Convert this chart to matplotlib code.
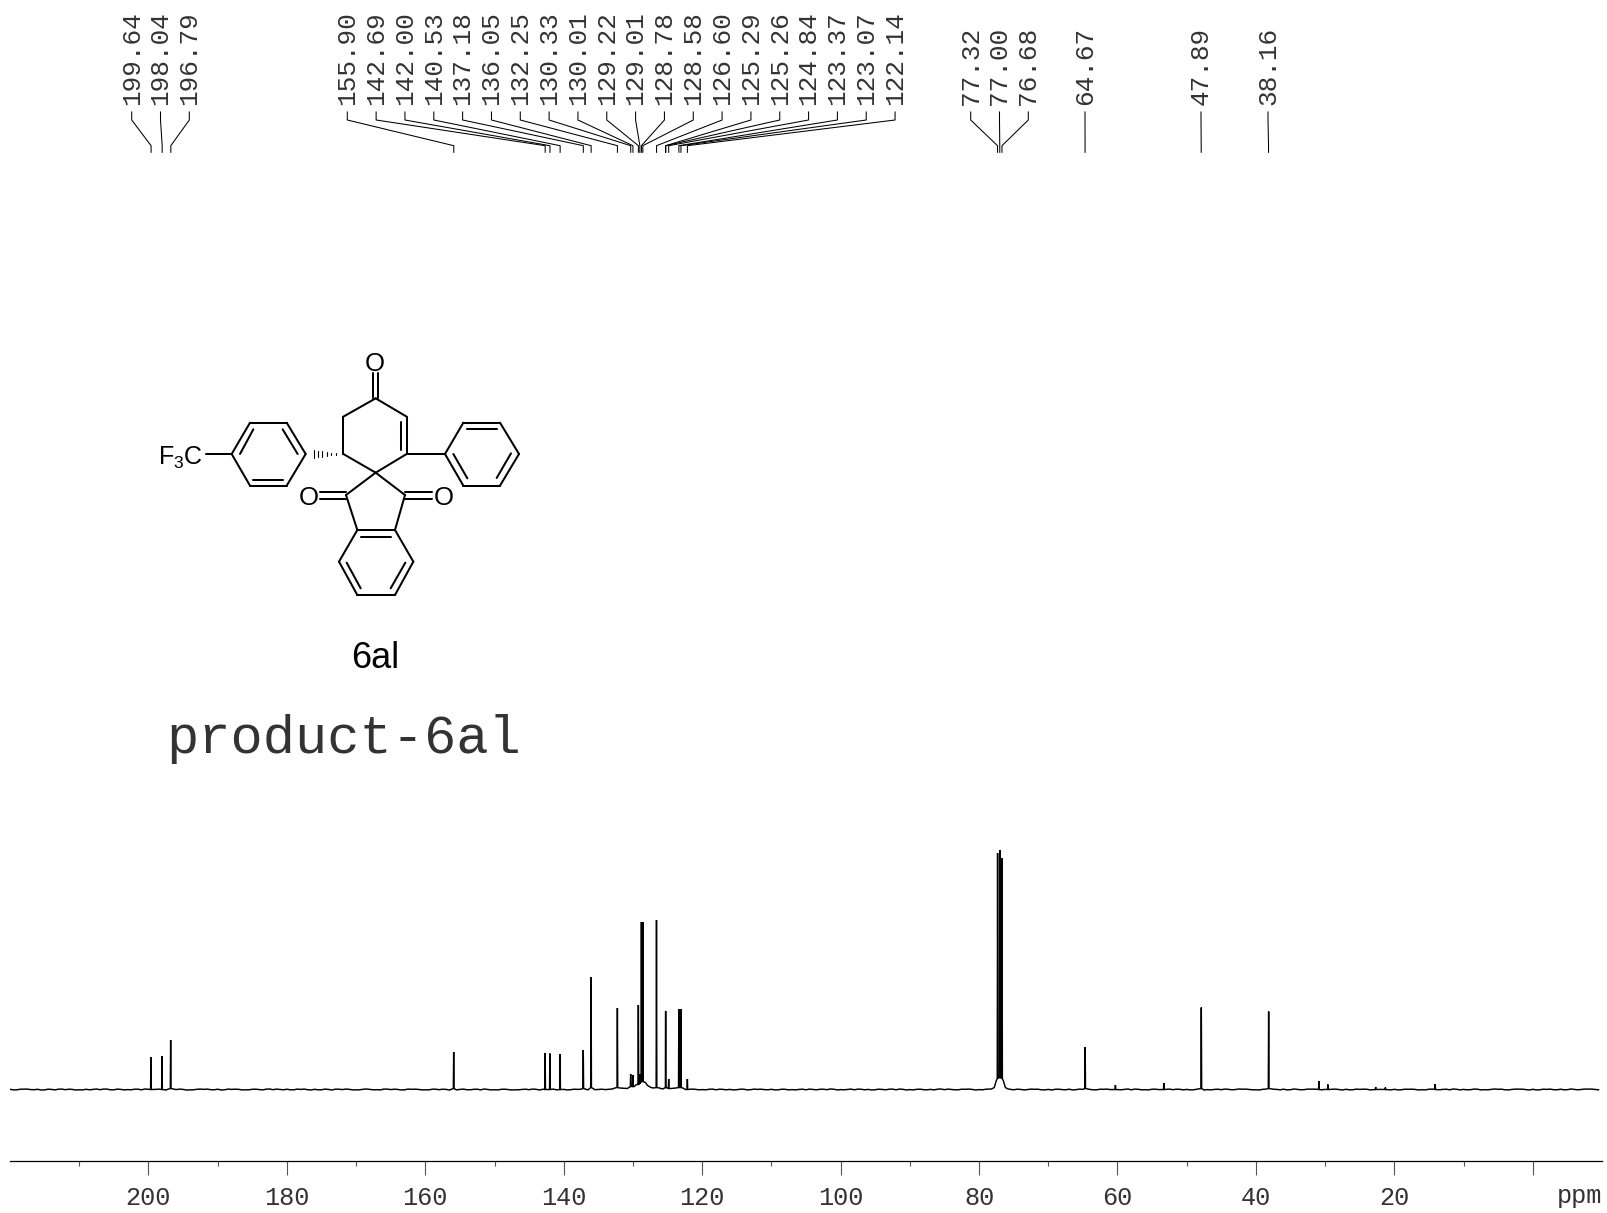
import numpy as np
import matplotlib
matplotlib.use('Agg')
import matplotlib.pyplot as plt

plt.rcParams['mathtext.fontset'] = 'custom'
plt.rcParams['mathtext.rm'] = 'Liberation Sans'

# labelled peaks
peak_labels = ['199.64', '198.04', '196.79', '155.90', '142.69', '142.00', '140.53', '137.18',
               '136.05', '132.25', '130.33', '130.01', '129.22', '129.01', '128.78', '128.58',
               '126.60', '125.29', '125.26', '124.84', '123.37', '123.07', '122.14',
               '77.32', '77.00', '76.68', '64.67', '47.89', '38.16']
peak_height = [32.5, 33.5, 49.5, 37.5, 36.5, 36, 35.5, 39.5,
               112.5, 81.5, 15.5, 14.5, 84.5, 15, 167.5, 167.5,
               169.5, 78.5, 78, 10.5, 80.5, 80.5, 10.5,
               236.5, 239.5, 231.5, 42.5, 82, 78]
peak_foot = [0, 0, 1, 1, 0, 0, 0, 1,
             2, 2, 3, 3, 5, 6, 8, 8,
             2, 2, 2, 1, 2, 2, 0,
             11, 12, 11, 1, 1, 1]

# small unlabelled signals
small_ppm = [60.3, 53.3, 30.9, 29.6, 22.7, 21.3, 14.1]
small_height = [4.5, 6.5, 8.5, 5, 2.5, 2, 5.5]

# broad bases under the crowded peaks and solvent
foot_ppm = [133.0, 132.6, 131.9, 130.8, 129.8, 129.5, 128.2, 127.9, 127.4, 127.0, 126.2, 125.7,
            124.5, 123.8, 122.8, 122.4, 78.2, 77.8, 77.55, 76.45, 76.2, 75.8]
foot_val = [0.5, 1.5, 1.5, 1, 3, 5, 7, 4, 2, 1.5, 1.5, 0.5,
            1, 1.5, 1.5, 0, 0.5, 2, 8, 8, 2, 0.5]

# baseline wiggle read every 1 ppm, 220 down to -10
base_ppm = list(range(220, -11, -1))
base_val = [0.2, -0.3, 0.3, -0.1, 0.2, -0.4, 0.1, 0.3, -0.2, 0.1, -0.3, 0.2, 0.1, -0.2, 0.4, -0.3,
            0.1, -0.1, 0.3, -0.3, 0.2, 0.1, -0.2, 0.3, -0.1, 0.1, -0.4, 0.2, 0.1, -0.2, 0.3, -0.3,
            0.1, 0.2, -0.3, 0.2, -0.1, 0.3, -0.2, 0.1, 0.3, -0.3, 0.1, -0.2, 0.2, -0.3, 0.1, 0.3,
            -0.1, 0.2, -0.4, 0.2, 0.1, -0.2, 0.4, -0.1, 0.1, -0.3, 0.2, 0.1, -0.3, 0.3, -0.2, 0.1,
            -0.4, 0.1, -0.2, 0.2, -0.4, 0.1, -0.3, 0.2, -0.1, -0.3, 0.1, -0.2, 0.2, 0.3, -0.1, -0.4,
            0.1, -0.2, 0.1, 0.2, -0.3, 0.1, -0.1, 0.2, -0.3, -0.1, 0.1, -0.2, 0.1, -0.2, 0.1, -0.3,
            0.1, 0.1, -0.2, 0.2, -0.1, 0.2, -0.3, 0.1, 0.1, -0.2, 0.3, -0.2, 0.1, -0.1, 0.2, -0.3,
            0.2, -0.1, 0.1, -0.3, 0.1, 0.2, -0.2, 0.3, -0.1, 0.1, -0.3, 0.2, 0.1, -0.2, 0.1, 0.3,
            -0.3, 0.2, -0.1, 0.2, -0.2, 0.1, 0.3, -0.2, 0.1, -0.3, 0.2, 0.1, -0.1, 0.3, -0.2, 0.1,
            0.2, -0.3, 0.1, -0.1, 0.2, -0.3, 0.1, 0.2, -0.1, 0.3, -0.2, 0.1, 0.1, -0.3, 0.2, -0.1,
            0.2, 0.1, -0.3, 0.2, -0.2, 0.3, -0.1, 0.1, -0.2, 0.2, 0.1, -0.3, 0.3, -0.1, 0.1, -0.2,
            0.2, -0.1, 0.3, 0.1, -0.3, 0.2, -0.2, 0.1, 0.3, -0.2, 0.1, -0.1, 0.3, -0.3, 0.1, 0.2,
            -0.1, 0.2, -0.3, 0.1, 0.3, -0.2, 0.1, -0.1, 0.2, -0.3, 0.2, 0.1, -0.2, 0.3, -0.1, 0.1,
            -0.3, 0.2, 0.1, -0.2, 0.3, -0.2, 0.1, 0.2, -0.3, 0.1, 0.3, -0.1, 0.2, -0.3, 0.1, -0.2,
            0.3, -0.2]

# and the points in between, every 1 ppm from 219.5 down to -9.5
half_ppm = [219.5 - i for i in range(230)]
half_val = [-0.4, 0.3, 0.4, -0.2, -0.5, 0.3, -0.4, 0.4, 0.3, -0.5,
            -0.4, -0.3, 0.5, 0.4, -0.3, 0.4, -0.4, -0.3, 0.3, 0.5,
            -0.3, 0.4, -0.5, 0.3, 0.4, -0.5, -0.3, 0.4, 0.4, -0.3,
            -0.5, 0.4, 0.3, -0.4, -0.3, 0.3, -0.4, 0.5, 0.4, -0.3,
            -0.3, 0.4, 0.4, -0.5, -0.3, 0.4, -0.5, 0.3, 0.4, -0.4,
            -0.3, 0.5, -0.3, -0.4, 0.4, 0.3, -0.5, 0.4, 0.3, -0.4,
            -0.4, 0.3, 0.3, -0.5, -0.4, 0.4, -0.3, 0.3, 0.5, -0.4,
            -0.4, 0.3, -0.5, -0.3, 0.3, 0.4, -0.5, 0.2, 0.4, -0.3,
            -0.4, 0.3, 0.3, -0.4, -0.2, 0.3, -0.4, 0.3, 0.4, -0.3,
            -0.3, 0.4, -0.4, -0.2, 0.3, 0.4, -0.3, 0.3, 0.4, -0.3,
            -0.3, 0.4, 0.3, -0.3, -0.4, 0.3, -0.4, 0.4, 0.3, -0.3,
            -0.4, 0.3, -0.4, -0.4, 0.3, 0.4, -0.3, 0.3, 0.5, -0.4,
            -0.3, 0.4, 0.4, -0.3, -0.5, 0.3, -0.3, 0.4, 0.4, -0.5,
            -0.4, 0.3, -0.3, -0.4, 0.5, 0.4, -0.3, 0.3, 0.4, -0.5,
            -0.3, 0.4, 0.4, -0.3, -0.5, 0.3, -0.4, 0.4, 0.3, -0.4,
            -0.5, 0.3, -0.3, -0.4, 0.4, 0.5, -0.3, 0.3, 0.4, -0.4,
            -0.3, 0.5, 0.4, -0.3, -0.4, 0.3, -0.5, 0.4, 0.3, -0.4,
            -0.4, 0.3, -0.5, -0.4, 0.3, 0.4, -0.3, 0.5, 0.4, -0.3,
            -0.5, 0.4, 0.3, -0.3, -0.4, 0.5, -0.3, 0.4, 0.4, -0.3,
            -0.3, 0.4, -0.5, -0.3, 0.4, 0.3, -0.4, 0.5, 0.3, -0.4,
            -0.4, 0.3, 0.3, -0.5, -0.4, 0.4, -0.3, 0.3, 0.5, -0.4,
            -0.3, 0.4, -0.4, -0.3, 0.5, 0.3, -0.4, 0.4, 0.3, -0.5,
            -0.4, 0.3, 0.4, -0.3, -0.3, 0.5, -0.3, 0.4, 0.4, -0.3]

tick_major = [200, 180, 160, 140, 120, 100, 80, 60, 40, 20, 0]
tick_minor = [210, 190, 170, 150, 130, 110, 90, 70, 50, 30, 10]
tick_text = ['200', '180', '160', '140', '120', '100', '80', '60', '40', '20', '']

peak_ppm = [float(s) for s in peak_labels]

W, H = 1607, 1213
fig = plt.figure(figsize=(W / 100, H / 100), dpi=100)

# spectrum axes, x is ppm, y is height above the baseline
ax = fig.add_axes([10 / W, (H - 1161) / H, 1592 / W, 361 / H])
ax.set_xlim(220, -10)
ax.set_ylim(-71.5, 289.5)
ax.patch.set_alpha(0)
for s in ['top', 'left', 'right']:
    ax.spines[s].set_visible(False)
ax.spines['bottom'].set_linewidth(0.9)
ax.yaxis.set_visible(False)
ax.set_xticks(tick_major)
ax.set_xticklabels(tick_text, family='Liberation Mono', fontsize=18.2, color='#333333')
ax.set_xticks(tick_minor, minor=True)
ax.tick_params(axis='x', which='major', length=10, width=0.8, color='#555555', pad=8)
ax.tick_params(axis='x', which='minor', length=3.6, width=0.8, color='#555555')

# merge baseline, bases and peaks into one trace
w = 0.05
pts = []
for p, v in list(zip(base_ppm, base_val)) + list(zip(half_ppm, half_val)):
    near_peak = any(abs(p - q) < 0.3 for q in peak_ppm + small_ppm)
    in_crowd = (121.5 < p < 134) or (75 < p < 79)
    if not near_peak and not in_crowd:
        pts.append((p, v))
pts += list(zip(foot_ppm, foot_val))
for p, h, f in zip(peak_ppm, peak_height, peak_foot):
    pts += [(p + w, f), (p, h), (p - w, f)]
for p, h in zip(small_ppm, small_height):
    pts += [(p + w, 0), (p, h), (p - w, 0)]
pts.sort(key=lambda t: -t[0])
ax.plot([t[0] for t in pts], [t[1] for t in pts], color='black', lw=1.05, solid_joinstyle='miter')

# overlay in pixel coordinates for labels and the drawing
ov = fig.add_axes([0, 0, 1, 1])
ov.set_xlim(0, W)
ov.set_ylim(H, 0)
ov.axis('off')
ov.patch.set_alpha(0)


def ppm_x(p):
    return 148.6 + (200 - p) * 6.92


# peak labels with leader lines
label_x = [131.7, 160.5, 189.3] + [347.3 + 28.83 * i for i in range(20)] \
    + [970.7, 999.5, 1028.3, 1085, 1201, 1268]
for x, s, p in zip(label_x, peak_labels, peak_ppm):
    ov.text(x, 105, s, rotation=90, ha='center', va='bottom', family='Liberation Mono',
            fontsize=18.8, color='#333333')
    px = ppm_x(p)
    ov.plot([x, x, px, px], [112, 120, 145.7, 152.3], color='black', lw=0.75)

ov.text(1602, 1196, 'ppm', ha='right', va='center', family='Liberation Mono', fontsize=18.2,
        color='#333333')
ov.text(343.5, 739, 'product-6al', ha='center', va='center', family='Liberation Mono',
        fontsize=38.7, color='#333333')


# structure, coordinates from the 3x crop at (130, 340)
def mx(x):
    return 130 + x / 3


def my(y):
    return 340 + y / 3


def bond(x0, y0, x1, y1, lw=1.45):
    ov.plot([mx(x0), mx(x1)], [my(y0), my(y1)], color='black', lw=lw, solid_capstyle='round')


def ring(xs, ys):
    for i in range(len(xs)):
        j = (i + 1) % len(xs)
        bond(xs[i], ys[i], xs[j], ys[j])


ring([737, 640, 640, 737, 830, 830], [175, 230, 342, 398, 342, 230])
bond(730, 175, 730, 100)
bond(744, 175, 744, 100)
bond(812, 330, 812, 245)
bond(830, 342, 945, 342)
ring([945, 1000, 1110, 1167, 1110, 1000], [342, 248, 248, 342, 437, 437])
bond(1012, 267, 1100, 267)
bond(1143, 340, 1100, 414)
bond(970, 342, 1012, 415)
bond(228, 342, 305, 342)
ring([305, 360, 470, 527, 470, 360], [342, 248, 248, 342, 437, 437])
bond(330, 342, 370, 268)
bond(458, 268, 503, 342)
bond(370, 420, 458, 420)
for x, hh in zip([618, 604, 590, 577, 564, 551], [2, 4, 6, 8, 10, 12]):
    bond(x, 342 - hh, x, 342 + hh, lw=0.8)
bond(737, 398, 648, 465)
bond(737, 398, 825, 465)
bond(648, 465, 682, 570)
bond(825, 465, 795, 570)
bond(692, 592, 782, 592)
bond(570, 455, 648, 455)
bond(570, 477, 648, 477)
bond(825, 455, 905, 455)
bond(825, 477, 905, 477)
ring([682, 795, 850, 795, 682, 627], [570, 570, 665, 765, 765, 665])
bond(650, 668, 692, 745)
bond(782, 745, 826, 668)

for x, y in [(735, 71), (535, 473), (940, 473)]:
    ov.text(mx(x), my(y), 'O', ha='center', va='center', family='Liberation Sans', fontsize=18.5)
ov.text(mx(85), my(354), r'F$_{\mathrm{3}}$C', ha='left', va='center', family='Liberation Sans',
        fontsize=18)
ov.text(mx(737), my(954), '6al', ha='center', va='center', family='Liberation Sans', fontsize=26)

fig.savefig('out.png', dpi=100)
